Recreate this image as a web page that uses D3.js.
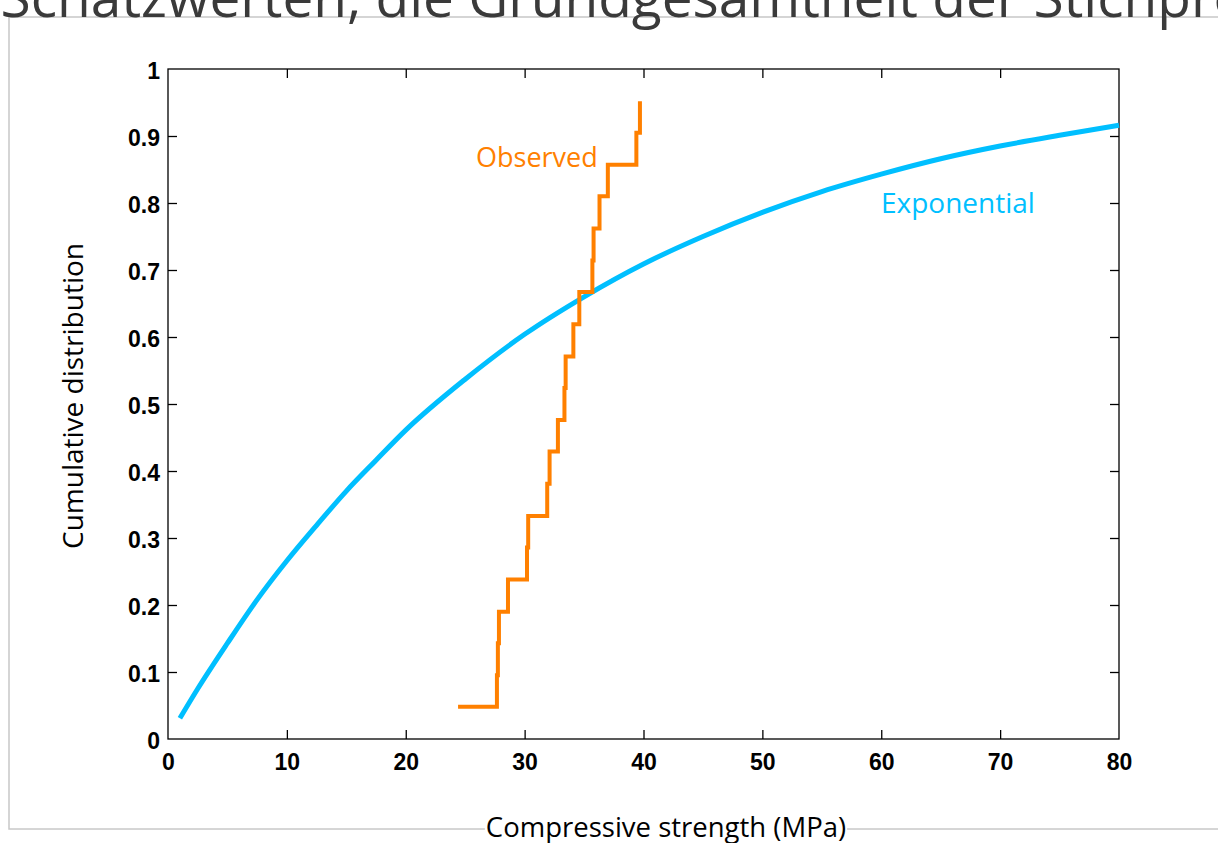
<!DOCTYPE html>
<html>
<head>
<meta charset="utf-8">
<script src="https://cdn.jsdelivr.net/npm/d3@7"></script>
<style>
  html, body { margin: 0; padding: 0; background: #fff; }
  svg { display: block; }
</style>
</head>
<body>
<svg id="chart" width="1218" height="843"></svg>
<script>
// Axis ticks
const xTicks = [0, 10, 20, 30, 40, 50, 60, 70, 80];
const yTicks = [0, 0.1, 0.2, 0.3, 0.4, 0.5, 0.6, 0.7, 0.8, 0.9, 1];
const yTickLabels = ["0", "0.1", "0.2", "0.3", "0.4", "0.5", "0.6", "0.7", "0.8", "0.9", "1"];

// Observed compressive strengths (MPa), sorted, with their empirical CDF levels
const observedStrength = [24.4, 27.67, 27.75, 27.84, 28.6, 30.2, 30.3, 31.9, 32.1, 32.8,
                          33.35, 33.45, 34.1, 34.6, 35.7, 35.8, 36.3, 37.0, 39.4, 39.7];
const observedCdf = [0.048, 0.095, 0.143, 0.190, 0.238, 0.286, 0.333, 0.381, 0.429, 0.476,
                     0.524, 0.571, 0.619, 0.667, 0.714, 0.762, 0.810, 0.857, 0.905, 0.952];

// Fitted exponential distribution
const expStrength = [1, 2.5, 5, 7.5, 10, 12.5, 15, 17.5, 20, 25, 30, 35, 40, 45, 50, 55, 60, 65, 70, 75, 80];
const expCdf = [0.031, 0.075, 0.143, 0.208, 0.266, 0.319, 0.370, 0.416, 0.461, 0.537, 0.604,
                0.660, 0.709, 0.750, 0.786, 0.817, 0.843, 0.866, 0.885, 0.901, 0.916];

const svg = d3.select("#chart");

const x = d3.scaleLinear().domain([0, 80]).range([168, 1119]);
const y = d3.scaleLinear().domain([0, 1]).range([739, 69]);

// Slide frame
svg.append("rect")
  .attr("x", 9).attr("y", 17)
  .attr("width", 1240).attr("height", 812)
  .attr("fill", "none")
  .attr("stroke", "#c8c8c8")
  .attr("stroke-width", 1.5);

// Heading text running off the top of the slide
const headFont = "'Open Sans', sans-serif";
svg.append("text")
  .attr("x", 347).attr("y", 17)
  .attr("text-anchor", "end")
  .attr("font-family", headFont).attr("font-size", 55)
  .attr("fill", "#3a3a3a")
  .text("Schätzwerten");
svg.append("text")
  .attr("x", 347).attr("y", 17)
  .attr("text-anchor", "start")
  .attr("font-family", headFont).attr("font-size", 55)
  .attr("fill", "#3a3a3a")
  .text(", die Grundgesamtheit der Stichprobe");

const plot = svg.append("g");

// Axes: labelled bottom/left, inward ticks on all four sides
const tickFont = "'Liberation Sans', Arial, sans-serif";
const gx = plot.append("g").attr("transform", `translate(0,${y(0)})`)
  .call(d3.axisBottom(x).tickValues(xTicks).tickSize(-9).tickPadding(15).tickFormat(d3.format("d")));
const gxTop = plot.append("g").attr("transform", `translate(0,${y(1)})`)
  .call(d3.axisTop(x).tickValues(xTicks).tickSize(-9).tickFormat(""));
const gy = plot.append("g").attr("transform", `translate(${x(0)},0)`)
  .call(d3.axisLeft(y).tickValues(yTicks).tickSize(-9).tickPadding(8)
    .tickFormat((d, i) => yTickLabels[i]));
const gyRight = plot.append("g").attr("transform", `translate(${x(80)},0)`)
  .call(d3.axisRight(y).tickValues(yTicks).tickSize(-9).tickFormat(""));

[gx, gxTop, gy, gyRight].forEach(g => {
  g.select(".domain").remove();
  g.selectAll(".tick line").attr("stroke", "#000").attr("stroke-width", 1.3);
  g.selectAll(".tick text")
    .attr("font-family", tickFont).attr("font-size", 23).attr("font-weight", "bold")
    .attr("fill", "#000");
});
gy.selectAll(".tick text").attr("dy", "0.42em");

// Remove end ticks that sit on the frame
[gx, gxTop].forEach(g => g.selectAll(".tick line").filter(d => d === 0 || d === 80).remove());
[gy, gyRight].forEach(g => g.selectAll(".tick line").filter(d => d === 0 || d === 1).remove());

// Plot box
plot.append("rect")
  .attr("x", x(0)).attr("y", y(1))
  .attr("width", x(80) - x(0)).attr("height", y(0) - y(1))
  .attr("fill", "none").attr("stroke", "#000").attr("stroke-width", 1.3);

// Exponential CDF curve
const expLine = d3.line().x((d, i) => x(expStrength[i])).y(d => y(d)).curve(d3.curveMonotoneX);
plot.append("path")
  .attr("d", expLine(expCdf))
  .attr("fill", "none")
  .attr("stroke", "#00BFFF")
  .attr("stroke-width", 5);

// Observed empirical CDF as stairs
const obsLine = d3.line().x((d, i) => x(observedStrength[i])).y(d => y(d)).curve(d3.curveStepAfter);
plot.append("path")
  .attr("d", obsLine(observedCdf))
  .attr("fill", "none")
  .attr("stroke", "#FF8000")
  .attr("stroke-width", 4);

// Series labels
const labelFont = "'Open Sans', sans-serif";
plot.append("text")
  .attr("x", 476).attr("y", 167)
  .attr("font-family", labelFont).attr("font-size", 27)
  .attr("fill", "#FF8000")
  .text("Observed");
plot.append("text")
  .attr("x", 881).attr("y", 213)
  .attr("font-family", labelFont).attr("font-size", 28)
  .attr("fill", "#00BFFF")
  .text("Exponential");

// Axis titles
svg.append("text")
  .attr("transform", `translate(83,396) rotate(-90)`)
  .attr("text-anchor", "middle")
  .attr("font-family", labelFont).attr("font-size", 28)
  .attr("fill", "#000")
  .text("Cumulative distribution");

// x title sits over the slide frame on a white backing
const xTitleBg = svg.append("rect").attr("fill", "#fff");
const xTitle = svg.append("text")
  .attr("x", 666).attr("y", 837)
  .attr("text-anchor", "middle")
  .attr("font-family", labelFont).attr("font-size", 27.5)
  .attr("fill", "#000")
  .text("Compressive strength (MPa)");
const bb = xTitle.node().getBBox();
xTitleBg
  .attr("x", bb.x - 1).attr("y", bb.y)
  .attr("width", bb.width + 2).attr("height", bb.height);
</script>
</body>
</html>
